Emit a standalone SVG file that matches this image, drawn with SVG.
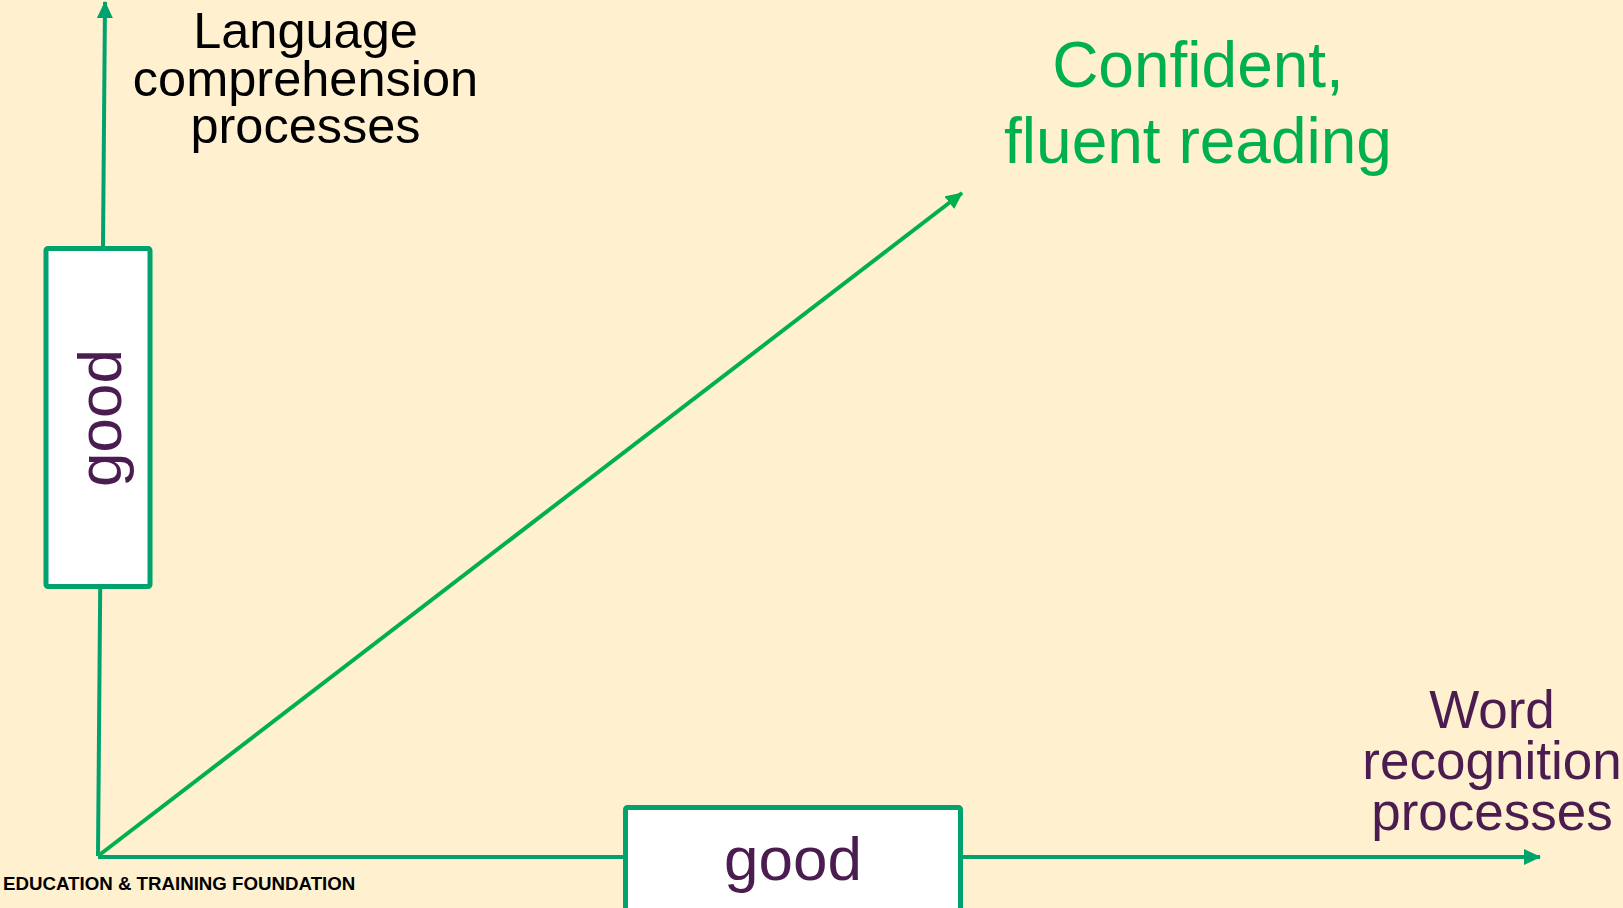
<svg xmlns="http://www.w3.org/2000/svg" width="1623" height="908" viewBox="0 0 1623 908">
<style>
.axis{stroke:#00A36C;stroke-width:4;fill:none}
.diag{stroke:#00B050;stroke-width:4;fill:none}
.box{fill:#FFFFFF;stroke:#00A36C;stroke-width:5}
.good{font-family:"Liberation Sans",Arial,sans-serif;font-size:62px;fill:#4A1C4F;text-anchor:middle}
.lbl{font-family:"Liberation Sans",Arial,sans-serif;text-anchor:middle}
</style>
<defs>
<marker id="ah" markerUnits="userSpaceOnUse" markerWidth="20" markerHeight="20" refX="16" refY="8" orient="auto">
<path d="M0,0 L17,8 L0,16 Z" fill="#00A36C"/>
</marker>
<marker id="ahd" markerUnits="userSpaceOnUse" markerWidth="20" markerHeight="20" refX="16" refY="8" orient="auto">
<path d="M0,0 L17,8 L0,16 Z" fill="#00B050"/>
</marker>
</defs>
<rect x="0" y="0" width="1623" height="908" fill="#FFF0CF"/>
<g id="connectors">
<line class="axis" x1="98" y1="856" x2="105" y2="2" marker-end="url(#ah)"/>
<line class="axis" x1="98" y1="857" x2="1540" y2="857" marker-end="url(#ah)"/>
<line class="diag" x1="98" y1="856" x2="962" y2="193" marker-end="url(#ahd)"/>
</g>
<g id="good-vertical">
<rect class="box" x="46" y="248.5" width="104" height="338" rx="2"/>
<text class="good" transform="translate(121,418) rotate(-90)" x="0" y="0">good</text>
</g>
<g id="good-horizontal">
<rect class="box" x="625.5" y="807.5" width="335" height="130" rx="2"/>
<text class="good" x="793" y="880">good</text>
</g>
<g id="language-label">
<text class="lbl" font-size="50.5" fill="#000000"><tspan x="305.5" y="48">Language</tspan><tspan x="305.5" y="95.5">comprehension</tspan><tspan x="305.5" y="143">processes</tspan></text>
</g>
<g id="confident-label">
<text class="lbl" font-size="64" fill="#00B050"><tspan x="1198" y="87">Confident,</tspan><tspan x="1198" y="163">fluent reading</tspan></text>
</g>
<g id="word-label">
<text class="lbl" font-size="53" fill="#4A1C4F"><tspan x="1492" y="728">Word</tspan><tspan x="1492" y="779">recognition</tspan><tspan x="1492" y="830">processes</tspan></text>
</g>
<g id="footer">
<text x="3" y="890" font-family="'Liberation Sans',Arial,sans-serif" font-weight="bold" font-size="18.7" fill="#000000">EDUCATION &amp; TRAINING FOUNDATION</text>
</g>
</svg>
